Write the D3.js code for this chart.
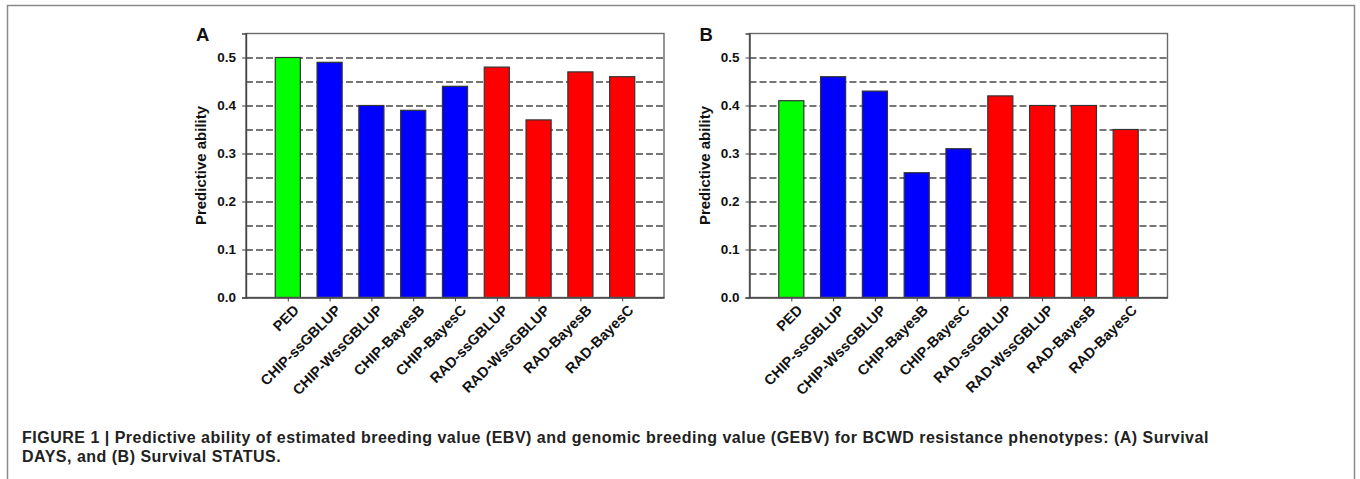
<!DOCTYPE html>
<html>
<head>
<meta charset="utf-8">
<script src="https://cdn.jsdelivr.net/npm/d3@7"></script>
<style>
  body { margin: 0; background: #fff; }
  svg { display: block; font-family: "Liberation Sans", Arial, sans-serif; }
</style>
</head>
<body>
<svg id="fig" width="1360" height="479"></svg>
<script>
const categories = ["PED", "CHIP-ssGBLUP", "CHIP-WssGBLUP", "CHIP-BayesB", "CHIP-BayesC",
  "RAD-ssGBLUP", "RAD-WssGBLUP", "RAD-BayesB", "RAD-BayesC"];
const survivalDays = [0.50, 0.49, 0.40, 0.39, 0.44, 0.48, 0.37, 0.47, 0.46];
const survivalStatus = [0.41, 0.46, 0.43, 0.26, 0.31, 0.42, 0.40, 0.40, 0.35];
const groupColors = ["#00ff00", "#0000ff", "#0000ff", "#0000ff", "#0000ff",
  "#ff0000", "#ff0000", "#ff0000", "#ff0000"];
const yTicks = [0, 0.1, 0.2, 0.3, 0.4, 0.5];
const gridValues = [0.05, 0.1, 0.15, 0.2, 0.25, 0.3, 0.35, 0.4, 0.45, 0.5];
const yTitle = "Predictive ability";
const captionLines = [
  "FIGURE 1 | Predictive ability of estimated breeding value (EBV) and genomic breeding value (GEBV) for BCWD resistance phenotypes: (A) Survival",
  "DAYS, and (B) Survival STATUS."
];

const svg = d3.select("#fig");

// outer page frame (open at the bottom)
svg.append("path")
  .attr("d", "M7.5,480 V5.5 H1354.5 V480")
  .attr("fill", "none")
  .attr("stroke", "#8a8a8a")
  .attr("stroke-width", 1.5);

function drawPanel(left, letter, values) {
  const top = 33.5, width = 418, height = 264;
  const g = svg.append("g").attr("transform", `translate(${left},${top})`);

  const x = d3.scalePoint().domain(categories).range([0, width]).padding(1);
  const y = d3.scaleLinear().domain([0, 0.55]).range([height, 0]);
  const barW = x.step() * 0.6;

  // dashed grid
  g.selectAll("line.grid")
    .data(gridValues)
    .enter().append("line")
    .attr("class", "grid")
    .attr("x1", 0).attr("x2", width)
    .attr("y1", d => Math.round(y(d)) + 0.5)
    .attr("y2", d => Math.round(y(d)) + 0.5)
    .attr("stroke", "#4a4a4a")
    .attr("stroke-width", 1.4)
    .attr("stroke-dasharray", "7,3");

  // bars
  g.selectAll("rect.bar")
    .data(values)
    .enter().append("rect")
    .attr("class", "bar")
    .attr("x", (d, i) => x(categories[i]) - barW / 2)
    .attr("y", d => y(d))
    .attr("width", barW)
    .attr("height", d => height - y(d))
    .attr("fill", (d, i) => groupColors[i])
    .attr("stroke", "#333")
    .attr("stroke-width", 1.2);

  // plot frame
  g.append("rect")
    .attr("x", 0).attr("y", 0)
    .attr("width", width).attr("height", height)
    .attr("fill", "none")
    .attr("stroke", "#6a6a6a")
    .attr("stroke-width", 1.4);

  // y axis
  const yAxis = g.append("g")
    .call(d3.axisLeft(y).tickValues(yTicks).tickFormat(d3.format(".1f")).tickSize(4).tickPadding(6));
  yAxis.select(".domain").attr("stroke", "#444").attr("stroke-width", 1.4);
  yAxis.selectAll(".tick line").attr("stroke", "#444");
  yAxis.selectAll("text")
    .style("font-size", "13.5px")
    .style("font-weight", "bold")
    .attr("fill", "#111");

  // x axis
  const xAxis = g.append("g")
    .attr("transform", `translate(0,${height})`)
    .call(d3.axisBottom(x).tickSize(4).tickSizeOuter(0));
  xAxis.select(".domain").attr("stroke", "#444").attr("stroke-width", 1.4);
  xAxis.selectAll(".tick line").attr("stroke", "#444");
  xAxis.selectAll("text")
    .style("font-size", "14.5px")
    .style("font-weight", "bold")
    .attr("fill", "#111")
    .attr("text-anchor", "end")
    .attr("transform", "translate(4,6) rotate(-45)")
    .attr("x", 0).attr("y", 0).attr("dy", "0.75em");

  // y title
  g.append("text")
    .attr("transform", `translate(${-40},${height / 2}) rotate(-90)`)
    .attr("text-anchor", "middle")
    .style("font-size", "15px")
    .style("font-weight", "bold")
    .attr("fill", "#111")
    .text(yTitle);

  // panel letter
  g.append("text")
    .attr("x", -50).attr("y", 7.5)
    .style("font-size", "18.5px")
    .style("font-weight", "bold")
    .attr("fill", "#111")
    .text(letter);
}

drawPanel(246, "A", survivalDays);
drawPanel(749.5, "B", survivalStatus);

// caption
svg.append("g").selectAll("text")
  .data(captionLines)
  .enter().append("text")
  .attr("x", 22)
  .attr("y", (d, i) => 443 + i * 19)
  .style("font-size", "16px")
  .style("font-weight", "bold")
  .style("letter-spacing", "0.5px")
  .attr("fill", "#222")
  .text(d => d);
</script>
</body>
</html>
